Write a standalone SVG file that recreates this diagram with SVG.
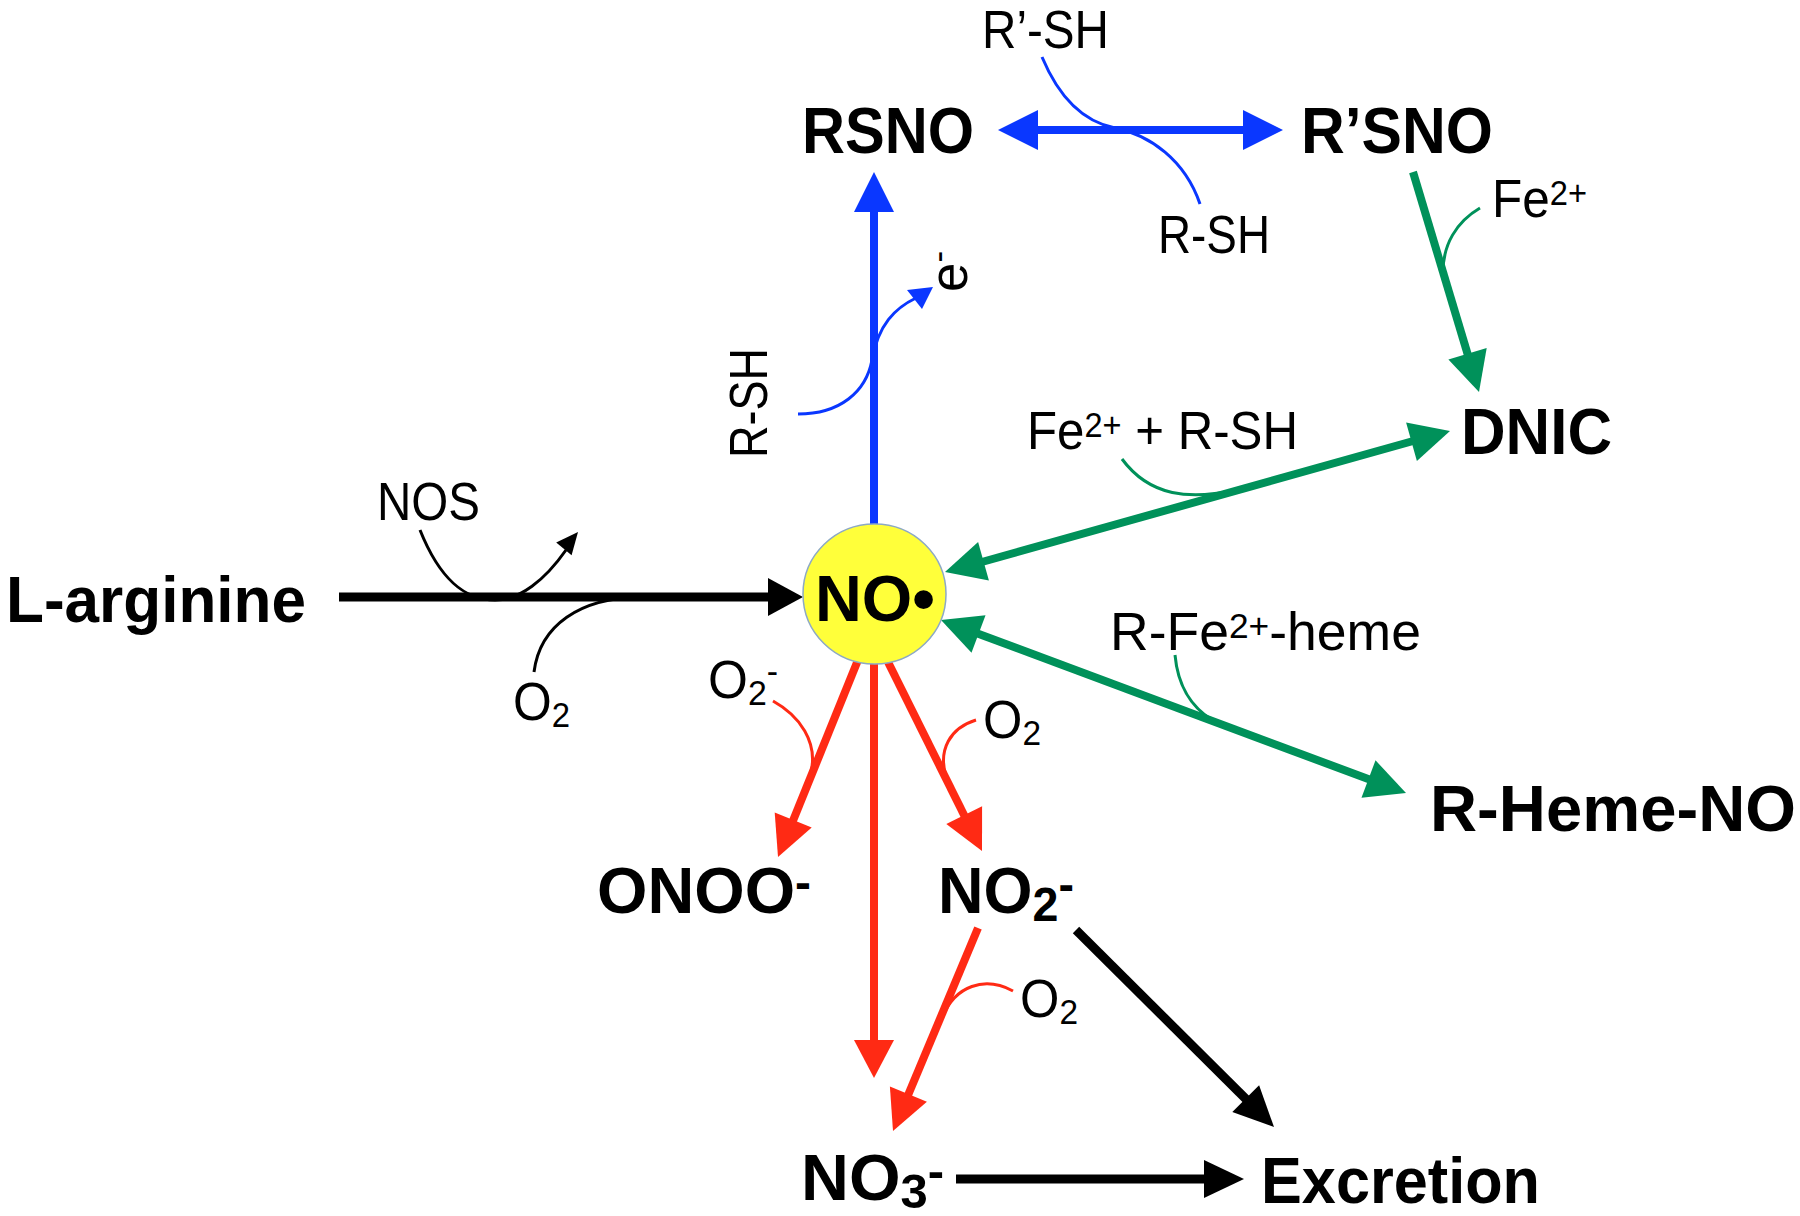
<svg xmlns="http://www.w3.org/2000/svg" width="1800" height="1216" viewBox="0 0 1800 1216">
<style>
text{font-family:"Liberation Sans",Arial,sans-serif;fill:#000}
.n{font-weight:bold;font-size:65px}
.l{font-size:53px}
.s{font-size:35px}
.bs{font-size:48px}
.k{stroke:#000;fill:none;stroke-width:9}
.kt{stroke:#000;fill:none;stroke-width:3}
.b{stroke:#0A37FF;fill:none;stroke-width:8}
.bt{stroke:#0A37FF;fill:none;stroke-width:3}
.g{stroke:#00915A;fill:none;stroke-width:8}
.gt{stroke:#00915A;fill:none;stroke-width:3}
.r{stroke:#FF2A14;fill:none;stroke-width:8}
.rt{stroke:#FF2A14;fill:none;stroke-width:3}
.hk{fill:#000}.hb{fill:#0A37FF}.hg{fill:#00915A}.hr{fill:#FF2A14}
</style>
<g id="connectors">
<line class="b" x1="874" y1="530" x2="874" y2="192"/>
<polygon class="hb" points="874,172 854,212 894,212"/>
<line class="b" x1="1018" y1="130" x2="1263" y2="130"/>
<polygon class="hb" points="998,130 1038,110 1038,150"/>
<polygon class="hb" points="1283,130 1243,110 1243,150"/>
<path class="bt" d="M1042,57 C1060,100 1085,122 1115,128 C1150,135 1185,160 1200,204"/>
<path class="bt" d="M798,414 C840,414 866,392 872,360 C878,325 895,308 916,298"/>
<polygon class="hb" points="933,287 907,290 922,309"/>
<line class="k" x1="339" y1="597" x2="785" y2="597"/>
<polygon class="hk" points="803,597 768,578 768,616"/>
<path class="kt" d="M420,530 C440,580 465,600 495,600 C520,600 545,580 566,550"/>
<polygon class="hk" points="578,532 571.6,555.3 556.2,542.5"/>
<path class="kt" d="M534,672 C540,625 580,598 640,597"/>
<line class="k" x1="956" y1="1179" x2="1224" y2="1179"/>
<polygon class="hk" points="1244,1179 1204,1160 1204,1198"/>
<line class="k" x1="1076" y1="930" x2="1260" y2="1113"/>
<polygon class="hk" points="1274,1127 1232.3,1112.1 1259.1,1085.3"/>
<line class="g" x1="1413" y1="172" x2="1473" y2="372"/>
<polygon class="hg" points="1479,392 1486.7,348 1448.4,359.4"/>
<path class="gt" d="M1480,208 C1456,222 1443,245 1443,272"/>
<line class="g" x1="964" y1="567" x2="1431" y2="436"/>
<polygon class="hg" points="945,572 988.9,580.5 978.1,541.9"/>
<polygon class="hg" points="1450,431 1416.9,461.1 1406.1,422.5"/>
<path class="gt" d="M1122,459 C1150,497 1190,500 1236,490"/>
<line class="g" x1="960" y1="627" x2="1387" y2="786"/>
<polygon class="hg" points="941,620 971.5,652.7 985.5,615.3"/>
<polygon class="hg" points="1406,793 1361.5,797.7 1375.5,760.3"/>
<path class="gt" d="M1175,655 C1178,688 1192,707 1212,720"/>
<line class="r" x1="858" y1="660" x2="786" y2="838"/>
<polygon class="hr" points="778,857 811.7,827.6 774.7,812.4"/>
<path class="rt" d="M773,701 C800,716 818,742 811,772"/>
<line class="r" x1="874" y1="660" x2="874" y2="1058"/>
<polygon class="hr" points="874,1078 854,1040 894,1040"/>
<line class="r" x1="887" y1="660" x2="973" y2="833"/>
<polygon class="hr" points="982,851 982.1,806.3 946.3,824.1"/>
<path class="rt" d="M976,720 C950,728 938,750 946,776"/>
<line class="r" x1="978" y1="928" x2="901" y2="1112"/>
<polygon class="hr" points="893,1131 926.9,1101.8 889.9,1086.4"/>
<path class="rt" d="M1013,991 C985,976 955,985 942,1018"/>
</g>
<g id="no-radical">
<ellipse cx="874.5" cy="594" rx="71.5" ry="70" fill="#FFFF3A" stroke="#8DA9C4" stroke-width="1.5"/>
<text class="n" x="815" y="621" textLength="120" lengthAdjust="spacingAndGlyphs">NO•</text>
</g>
<g id="l-arginine"><text class="n" x="6" y="622" textLength="300" lengthAdjust="spacingAndGlyphs">L-arginine</text></g>
<g id="rsno"><text class="n" x="802" y="153" textLength="172" lengthAdjust="spacingAndGlyphs">RSNO</text></g>
<g id="r-prime-sno"><text class="n" x="1301" y="153" textLength="192" lengthAdjust="spacingAndGlyphs">R’SNO</text></g>
<g id="dnic"><text class="n" x="1461" y="454" textLength="151" lengthAdjust="spacingAndGlyphs">DNIC</text></g>
<g id="r-heme-no"><text class="n" x="1430" y="831" textLength="366" lengthAdjust="spacingAndGlyphs">R-Heme-NO</text></g>
<g id="onoo"><text class="n" x="597" y="913" textLength="214" lengthAdjust="spacingAndGlyphs">ONOO<tspan class="bs" dy="-14">-</tspan></text></g>
<g id="no2"><text class="n" x="938" y="913" textLength="136" lengthAdjust="spacingAndGlyphs">NO<tspan class="bs" dy="8">2</tspan><tspan class="bs" dy="-20">-</tspan></text></g>
<g id="no3"><text class="n" x="801" y="1200" textLength="143" lengthAdjust="spacingAndGlyphs">NO<tspan class="bs" dy="8">3</tspan><tspan class="bs" dy="-20">-</tspan></text></g>
<g id="excretion"><text class="n" x="1261" y="1203" textLength="279" lengthAdjust="spacingAndGlyphs">Excretion</text></g>
<g id="labels">
<text class="l" x="982" y="48" textLength="127" lengthAdjust="spacingAndGlyphs">R’-SH</text>
<text class="l" x="1158" y="253" textLength="112" lengthAdjust="spacingAndGlyphs">R-SH</text>
<text class="l" x="1492" y="217" textLength="95" lengthAdjust="spacingAndGlyphs">Fe<tspan class="s" dy="-12">2+</tspan></text>
<text class="l" x="1027" y="449" textLength="271" lengthAdjust="spacingAndGlyphs">Fe<tspan class="s" dy="-12">2+</tspan><tspan dy="12"> + R-SH</tspan></text>
<text class="l" x="1110" y="650" textLength="311" lengthAdjust="spacingAndGlyphs">R-Fe<tspan class="s" dy="-12">2+</tspan><tspan dy="12">-heme</tspan></text>
<text class="l" x="377" y="520" textLength="103" lengthAdjust="spacingAndGlyphs">NOS</text>
<text class="l" x="513" y="720" textLength="57" lengthAdjust="spacingAndGlyphs">O<tspan class="s" dy="7">2</tspan></text>
<text class="l" x="708" y="698" textLength="70" lengthAdjust="spacingAndGlyphs">O<tspan class="s" dy="7">2</tspan><tspan class="s" dy="-22">-</tspan></text>
<text class="l" x="983" y="738" textLength="58" lengthAdjust="spacingAndGlyphs">O<tspan class="s" dy="7">2</tspan></text>
<text class="l" x="1020" y="1017" textLength="58" lengthAdjust="spacingAndGlyphs">O<tspan class="s" dy="7">2</tspan></text>
<text class="l" transform="translate(767,458) rotate(-90)" x="0" y="0" textLength="110" lengthAdjust="spacingAndGlyphs">R-SH</text>
<text class="l" transform="translate(967,292) rotate(-90)" x="0" y="0">e<tspan class="s" dy="-17">-</tspan></text>
</g>
</svg>
